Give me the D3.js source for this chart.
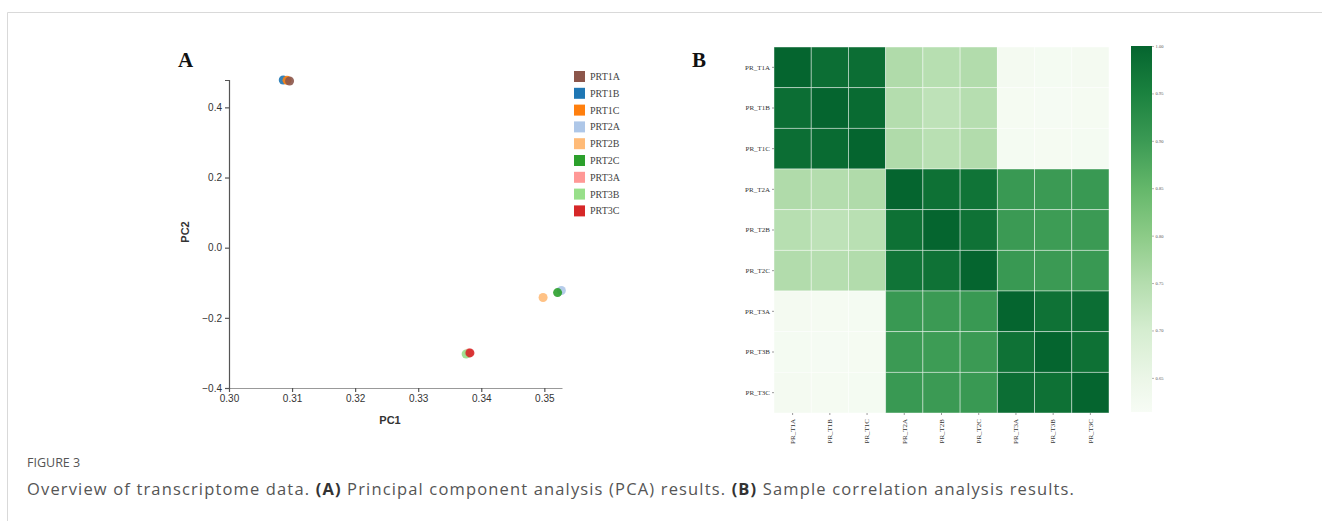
<!DOCTYPE html>
<html>
<head>
<meta charset="utf-8">
<script src="https://cdn.jsdelivr.net/npm/d3@7"></script>
<style>
  body { margin: 0; background: #fff; }
  svg { display: block; }
</style>
</head>
<body>
<div id="chart"></div>
<script>
// DATA *****************************************************
var samples = ["PRT1A", "PRT1B", "PRT1C", "PRT2A", "PRT2B", "PRT2C", "PRT3A", "PRT3B", "PRT3C"];
var pc1 = [0.3096, 0.3086, 0.3092, 0.3527, 0.3498, 0.3521, 0.3380, 0.3376, 0.3382];
var pc2 = [0.475, 0.478, 0.477, -0.122, -0.142, -0.128, -0.300, -0.303, -0.300];
var sampleColors = ["#8c564b", "#1f77b4", "#ff7f0e", "#aec7e8", "#ffbb78", "#2ca02c", "#ff9896", "#98df8a", "#d62728"];
var pc1Ticks = [0.30, 0.31, 0.32, 0.33, 0.34, 0.35];
var pc2Ticks = [-0.4, -0.2, 0.0, 0.2, 0.4];

var heatLabels = ["PR_T1A", "PR_T1B", "PR_T1C", "PR_T2A", "PR_T2B", "PR_T2C", "PR_T3A", "PR_T3B", "PR_T3C"];
var corrT1A = [1.000, 0.985, 0.985, 0.755, 0.745, 0.752, 0.624, 0.622, 0.624];
var corrT1B = [0.985, 1.000, 0.990, 0.750, 0.735, 0.747, 0.621, 0.620, 0.621];
var corrT1C = [0.985, 0.990, 1.000, 0.755, 0.742, 0.752, 0.623, 0.621, 0.622];
var corrT2A = [0.755, 0.750, 0.755, 1.000, 0.980, 0.975, 0.903, 0.900, 0.903];
var corrT2B = [0.745, 0.735, 0.742, 0.980, 1.000, 0.978, 0.900, 0.897, 0.900];
var corrT2C = [0.752, 0.747, 0.752, 0.975, 0.978, 1.000, 0.903, 0.900, 0.903];
var corrT3A = [0.624, 0.621, 0.623, 0.903, 0.900, 0.903, 1.000, 0.978, 0.985];
var corrT3B = [0.622, 0.620, 0.621, 0.900, 0.897, 0.900, 0.978, 1.000, 0.980];
var corrT3C = [0.624, 0.621, 0.622, 0.903, 0.900, 0.903, 0.985, 0.980, 1.000];
var corrRows = [corrT1A, corrT1B, corrT1C, corrT2A, corrT2B, corrT2C, corrT3A, corrT3B, corrT3C];
var colorbarTicks = [1.00, 0.95, 0.90, 0.85, 0.80, 0.75, 0.70, 0.65];

// colour ramp (Greens)
var rampValues = [0.614, 0.65, 0.70, 0.75, 0.80, 0.85, 0.90, 0.95, 1.00];
var rampColors = ["#f7fcf5", "#ebf6e7", "#d5edd0", "#b4ddae", "#8ccb87", "#64b76a", "#3b9a54", "#1b823f", "#05652f"];

// SVG ******************************************************
var width = 1322, height = 521;
var svg = d3.select("#chart").append("svg")
        .attr("width", width)
        .attr("height", height);

svg.append("rect").attr("width", width).attr("height", height).attr("fill", "#fff");

// frame
svg.append("path")
        .attr("d", "M7.5," + height + " L7.5,12.5 L" + width + ",12.5")
        .attr("fill", "none")
        .attr("stroke", "#d9d9d9")
        .attr("stroke-width", 1);

// panel letters
svg.append("text").text("A")
        .attr("x", 178).attr("y", 67)
        .attr("font-family", "Liberation Serif, serif")
        .attr("font-weight", "bold")
        .attr("font-size", 21)
        .attr("fill", "#111");
svg.append("text").text("B")
        .attr("x", 692).attr("y", 67)
        .attr("font-family", "Liberation Serif, serif")
        .attr("font-weight", "bold")
        .attr("font-size", 21)
        .attr("fill", "#111");

// PANEL A: PCA ********************************************
var x = d3.scaleLinear().domain([0.30, 0.3528]).range([229, 562]);
var y = d3.scaleLinear().domain([-0.4, 0.478]).range([388, 80]);

var pca = svg.append("g");

var xAxis = pca.append("g")
        .attr("transform", "translate(0,388)")
        .call(d3.axisBottom(x).tickValues(pc1Ticks).tickFormat(d3.format(".2f")).tickSize(4).tickSizeOuter(0));
var yAxis = pca.append("g")
        .attr("transform", "translate(229,0)")
        .call(d3.axisLeft(y).tickValues(pc2Ticks).tickFormat(d3.format(".1f")).tickSize(4).tickSizeOuter(4));

[xAxis, yAxis].forEach(function (a) {
        a.selectAll("path, line").attr("stroke", "#555").attr("stroke-width", 1.2);
        a.selectAll("text")
                .attr("font-family", "Liberation Sans, Arial, sans-serif")
                .attr("font-size", 10)
                .attr("fill", "#333");
});
xAxis.select(".domain").attr("stroke", "#999");

pca.append("text").text("PC1")
        .attr("x", 390).attr("y", 424)
        .attr("text-anchor", "middle")
        .attr("font-family", "Liberation Sans, Arial, sans-serif")
        .attr("font-size", 11)
        .attr("font-weight", "bold")
        .attr("fill", "#333");
pca.append("text").text("PC2")
        .attr("transform", "translate(189,232) rotate(-90)")
        .attr("text-anchor", "middle")
        .attr("font-family", "Liberation Sans, Arial, sans-serif")
        .attr("font-size", 11)
        .attr("font-weight", "bold")
        .attr("fill", "#333");

pca.selectAll("circle.pt")
        .data(samples)
        .enter()
        .append("circle")
        .attr("class", "pt")
        .attr("cx", function (d, i) { return x(pc1[i]); })
        .attr("cy", function (d, i) { return y(pc2[i]); })
        .attr("r", 4.5)
        .attr("fill", function (d, i) { return sampleColors[i]; })
        .attr("opacity", 0.9);
// PRT1A sits on top of its group in the original
pca.selectAll("circle.pt").filter(function (d) { return d === "PRT1A"; }).raise();

// legend
var legend = pca.selectAll("g.leg")
        .data(samples)
        .enter()
        .append("g")
        .attr("class", "leg")
        .attr("transform", function (d, i) { return "translate(574," + (71 + i * 16.8) + ")"; });
legend.append("rect")
        .attr("width", 11).attr("height", 11)
        .attr("fill", function (d, i) { return sampleColors[i]; });
legend.append("text")
        .text(function (d) { return d; })
        .attr("x", 16).attr("y", 9)
        .attr("font-family", "Liberation Serif, serif")
        .attr("font-size", 10)
        .attr("fill", "#444");

// PANEL B: HEATMAP ****************************************
var color = d3.scaleLinear().domain(rampValues).range(rampColors);
var hx = d3.scaleBand().domain(heatLabels).range([774, 1109]);
var hy = d3.scaleBand().domain(heatLabels).range([47, 413]);

var cells = [];
corrRows.forEach(function (row, i) {
        row.forEach(function (v, j) {
                cells.push({ r: heatLabels[i], c: heatLabels[j], v: v });
        });
});

var heat = svg.append("g");
heat.selectAll("rect.cell")
        .data(cells)
        .enter()
        .append("rect")
        .attr("class", "cell")
        .attr("x", function (d) { return hx(d.c); })
        .attr("y", function (d) { return hy(d.r); })
        .attr("width", hx.bandwidth())
        .attr("height", hy.bandwidth())
        .attr("fill", function (d) { return color(d.v); })
        .attr("stroke", "rgba(255,255,255,0.55)")
        .attr("stroke-width", 0.8);

var rowAxis = heat.append("g")
        .attr("transform", "translate(774,0)")
        .call(d3.axisLeft(hy).tickSize(2).tickPadding(2));
var colAxis = heat.append("g")
        .attr("transform", "translate(0,413)")
        .call(d3.axisBottom(hx).tickSize(2).tickPadding(2));
colAxis.selectAll("text")
        .attr("transform", "rotate(-90)")
        .attr("text-anchor", "end")
        .attr("x", -6)
        .attr("y", 0)
        .attr("dy", "0.32em");

[rowAxis, colAxis].forEach(function (a) {
        a.select(".domain").remove();
        a.selectAll("line").attr("stroke", "#555").attr("stroke-width", 0.6);
        a.selectAll("text")
                .attr("font-family", "Liberation Serif, serif")
                .attr("font-size", 7)
                .attr("fill", "#333");
});

// colorbar
var cbY = d3.scaleLinear().domain([0.614, 1.0]).range([412, 46]);
var defs = svg.append("defs");
var grad = defs.append("linearGradient")
        .attr("id", "cbgrad")
        .attr("x1", 0).attr("y1", 1).attr("x2", 0).attr("y2", 0);
grad.selectAll("stop")
        .data(rampValues)
        .enter()
        .append("stop")
        .attr("offset", function (d) { return (d - 0.614) / (1.0 - 0.614); })
        .attr("stop-color", function (d, i) { return rampColors[i]; });

heat.append("rect")
        .attr("x", 1131).attr("y", 46)
        .attr("width", 21).attr("height", 366)
        .attr("fill", "url(#cbgrad)");

var cbAxis = heat.append("g")
        .attr("transform", "translate(1152,0)")
        .call(d3.axisRight(cbY).tickValues(colorbarTicks).tickFormat(d3.format(".2f")).tickSize(2).tickPadding(1.5));
cbAxis.select(".domain").remove();
cbAxis.selectAll("line").attr("stroke", "#666").attr("stroke-width", 0.5);
cbAxis.selectAll("text")
        .attr("font-family", "Liberation Serif, serif")
        .attr("font-size", 4.5)
        .attr("fill", "#555");

// CAPTION **************************************************
// spread letters so the caption line spans the same width as the original
function fitSpacing(node, targetWidth) {
        var len = node.getComputedTextLength();
        var n = node.textContent.length;
        if (len < targetWidth) d3.select(node).attr("letter-spacing", ((targetWidth - len) / n).toFixed(2));
}

svg.append("text").text("FIGURE 3")
        .attr("x", 27).attr("y", 467)
        .attr("font-family", "Open Sans, sans-serif")
        .attr("font-size", 12.5)
        .attr("fill", "#555");

var cap = svg.append("text")
        .attr("x", 27).attr("y", 495)
        .attr("font-family", "Open Sans, sans-serif")
        .attr("font-size", 16.5)
        .attr("fill", "#555");
cap.append("tspan").text("Overview of transcriptome data. ");
cap.append("tspan").text("(A)").attr("font-weight", "bold").attr("fill", "#333");
cap.append("tspan").text(" Principal component analysis (PCA) results. ");
cap.append("tspan").text("(B)").attr("font-weight", "bold").attr("fill", "#333");
cap.append("tspan").text(" Sample correlation analysis results.");
fitSpacing(cap.node(), 1048);
</script>
</body>
</html>
